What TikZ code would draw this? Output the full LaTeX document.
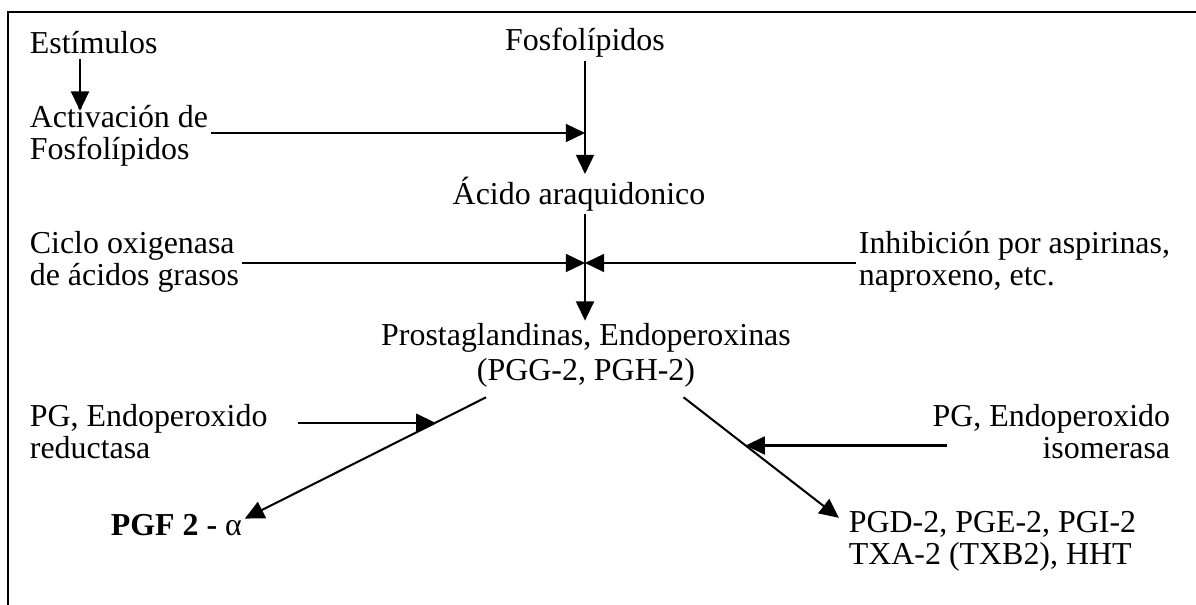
\documentclass[tikz,border=0pt]{standalone}
\usepackage{fontspec}
\setmainfont{Liberation Serif}
\usetikzlibrary{arrows.meta,positioning,calc}

\begin{document}
\begin{tikzpicture}[
    x=0.4167pt, y=-0.4167pt,
    txt/.style={inner sep=1pt, font=\fontsize{13.3}{13.3}\selectfont},
    ltxt/.style={txt, align=left, anchor=west},
    rtxt/.style={txt, align=right, anchor=east},
    arr/.style={-{Triangle[length=8pt,width=7.5pt]}, line width=0.85pt}
  ]
    \useasboundingbox (0,0) rectangle (1196,605);
    \draw[line width=0.9pt] (1196,12) -- (8,12) -- (8,605);

    \node[ltxt] (estim) at (27,43)  {Estímulos};
    \node[ltxt] (activ) at (27,136) {Activación de\\Fosfolípidos};
    \node[txt]  (fosfo) at (585,43) {Fosfolípidos};
    \node[txt]  (acido) at (579,194) {Ácido araquidonico};
    \node[ltxt] (ciclo) at (27,262)  {Ciclo oxigenasa\\de ácidos grasos};
    \node[ltxt] (inhib) at (856,262) {Inhibición por aspirinas,\\naproxeno, etc.};
    \node[txt]  (prost) at (586,338) {Prostaglandinas, Endoperoxinas};
    \node[txt, below=0pt of prost] (pgg) {(PGG-2, PGH-2)};
    \node[ltxt] (reduc) at (27,432)   {PG, Endoperoxido\\reductasa};
    \node[rtxt] (isom)  at (1173,432) {PG, Endoperoxido\\isomerasa};
    \node[ltxt] (pgf)   at (108,525)  {\textbf{PGF 2 -} α};
    \node[ltxt] (pgd)   at (846,541)  {PGD-2, PGE-2, PGI-2\\TXA-2 (TXB2), HHT};

    % junctions on the main line
    \coordinate (j1) at (585,133);
    \coordinate (j2) at (585,263);
    \coordinate (dl) at ([xshift=5pt,yshift=-3pt]pgg.south west);
    \coordinate (dr) at ([xshift=-6pt,yshift=-3pt]pgg.south east);
    \coordinate (tl) at ([yshift=-3pt]pgf.north east);
    \coordinate (tr) at ([xshift=-3pt,yshift=-4pt]pgd.north west);
    \coordinate (k1) at ($(dl)!0.21!(tl)$);
    \coordinate (k2) at ($(dr)!0.40!(tr)$);

    \draw[arr] ($(estim.south west)+(53,2)$) -- ($(activ.north west)+(53,8)$);
    \draw[arr] (fosfo.south) -- (fosfo.south |- acido.north);
    \draw[arr] (activ.east |- j1) -- (j1);
    \draw[arr] (acido.south -| fosfo.south) -- (prost.north -| fosfo.south);
    \draw[arr] (ciclo.east |- j2) -- (j2);
    \draw[arr] (inhib.west |- j2) -- (j2);
    \draw[arr] (dl) -- (tl);
    \draw[arr] (dr) -- (tr);
    \draw[arr] ($(reduc.east |- k1)+(28,0)$) -- (k1);
    \draw[arr] ($(isom.west |- k2)+(17,0)$) -- (k2);
\end{tikzpicture}
\end{document}
